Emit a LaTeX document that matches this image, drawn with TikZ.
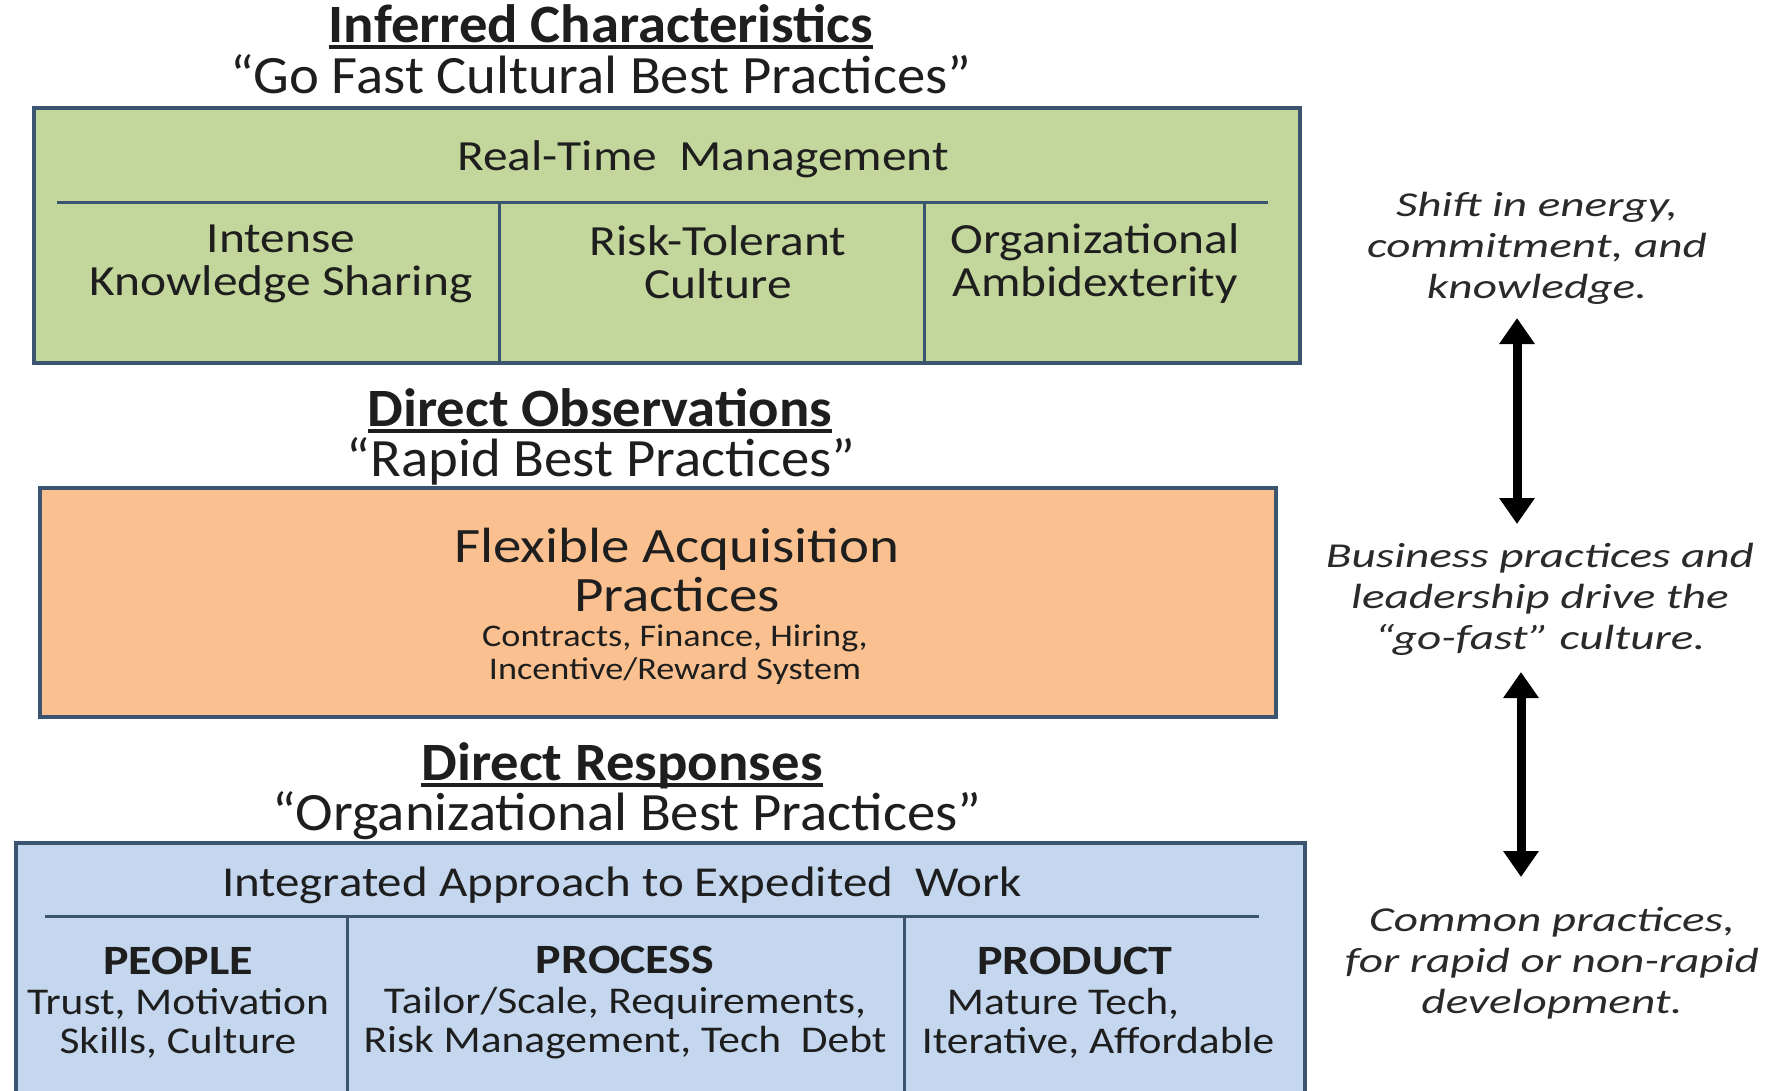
\documentclass[tikz,border=0pt]{standalone}
\usepackage{fontspec}
\setmainfont{Carlito}[FakeStretch=1.15]
\newfontfamily\headfont{Carlito}[FakeStretch=1.05]
\newfontfamily\notefont{Carlito}[FakeStretch=1.35]
\usetikzlibrary{arrows.meta}

\definecolor{boxline}{HTML}{3B5570}
\definecolor{greenfill}{HTML}{C3D69B}
\definecolor{orangefill}{HTML}{FAC08F}
\definecolor{bluefill}{HTML}{C4D7EF}
\definecolor{ink}{HTML}{1E1E1E}
\definecolor{noteink}{HTML}{2A2A2A}

% bold heading of a column in the lower panel
\newcommand{\facettitle}[1]{{\fontsize{41.7}{39.5}\selectfont\bfseries #1}}

\tikzset{
  panel/.style={draw=boxline, line width=3.5pt, rectangle, inner sep=0pt},
  divider/.style={draw=boxline, line width=3pt},
  heading/.style={anchor=base, inner sep=0pt, text=ink, font=\headfont\bfseries\fontsize{54}{54}\selectfont},
  subheading/.style={anchor=base, inner sep=0pt, text=ink, font=\headfont\fontsize{54}{54}\selectfont},
  underbar/.style={draw=ink, line width=3.5pt},
  cell/.style={align=center, inner sep=0pt, text=ink, font=\fontsize{43}{43}\selectfont},
  facet/.style={align=center, inner sep=0pt, text=ink, font=\fontsize{37.8}{39.5}\selectfont},
  note/.style={align=center, inner sep=0pt, text=noteink, font=\notefont\itshape\fontsize{35}{41}\selectfont},
  bigarrow/.style={line width=9pt, black, {Triangle[width=34pt,length=26pt]}-{Triangle[width=34pt,length=26pt]}}
}

\begin{document}
\begin{tikzpicture}[x=1pt, y=-1pt]
\useasboundingbox (0,0) rectangle (1779,1090);
\fill[white] (0,0) rectangle (1779,1090);

% ---------- inferred characteristics ----------
\node[heading] (t1) at (601,42) {Inferred Characteristics};
\draw[underbar] ([yshift=-5pt]t1.base west) -- ([yshift=-5pt]t1.base east);
\node[subheading] (s1) at (601,93) {“Go Fast Cultural Best Practices”};

\node[panel, fill=greenfill, minimum width=1266pt, minimum height=255pt] (green) at (667,235.5) {};
\draw[divider] (57,202) -- (1268,202);
\draw[divider] (499,202) -- (499,363);
\draw[divider] (924,202) -- (924,363);
\node[cell] (rtm) at (703,159.5) {Real-Time~ Management};
\node[cell] (iks) at (281,264) {Intense\\Knowledge Sharing};
\node[cell] (rtc) at (718,262) {Risk-Tolerant\\Culture};
\node[cell] (oam) at (1095,264) {Organizational\\Ambidexterity};

% ---------- direct observations ----------
\node[heading] (t2) at (600,426) {Direct Observations};
\draw[underbar] ([yshift=-5pt]t2.base west) -- ([yshift=-5pt]t2.base east);
\node[subheading] (s2) at (601,476) {“Rapid Best Practices”};

\node[panel, fill=orangefill, minimum width=1236pt, minimum height=229pt] (orange) at (658,602.5) {};
\node[cell, font=\fontsize{49.5}{49}\selectfont] (fap) at (677,570) {Flexible Acquisition\\Practices};
\node[cell, font=\fontsize{31.5}{33}\selectfont] (fin) at (675,655) {Contracts, Finance, Hiring,\\Incentive/Reward System};

% ---------- direct responses ----------
\node[heading] (t3) at (622,780) {Direct Responses};
\draw[underbar] ([yshift=-5pt]t3.base west) -- ([yshift=-5pt]t3.base east);
\node[subheading] (s3) at (627,830) {“Organizational Best Practices”};

\node[panel, fill=bluefill, minimum width=1289pt, minimum height=277pt] (blue) at (660.5,981.5) {};
\draw[divider] (45,916) -- (1259,916);
\draw[divider] (347,916) -- (347,1110);
\draw[divider] (904,916) -- (904,1110);
\node[cell, font=\fontsize{42.6}{41}\selectfont] (iae) at (622,885) {Integrated Approach to Expedited~ Work};
\node[facet] (ppl) at (178,1003) {\facettitle{PEOPLE}\\Trust, Motivation\\Skills, Culture};
\node[facet] (prc) at (625,1003) {\facettitle{PROCESS}\\Tailor/Scale, Requirements,\\Risk Management, Tech~ Debt};
\node[facet] (prd) at (1098,1003) {\facettitle{PRODUCT}\makebox[46pt]{}\\Mature Tech,\makebox[70pt]{}\\Iterative, Affordable};

% ---------- side notes and arrows ----------
\node[note] (n1) at (1537,248) {Shift in energy,\\commitment, and\\knowledge.};
\node[note] (n2) at (1540,599) {Business practices and\\leadership drive the\\“go-fast” culture.};
\node[note] (n3) at (1552,963) {Common practices,\\for rapid or non-rapid\\development.};

\coordinate (a1top) at (1517,318);
\coordinate (a1bot) at (1517,524);
\coordinate (a2top) at (1521,672);
\coordinate (a2bot) at (1521,877);
\draw[bigarrow] (a1top) -- (a1bot);
\draw[bigarrow] (a2top) -- (a2bot);
\end{tikzpicture}
\end{document}
